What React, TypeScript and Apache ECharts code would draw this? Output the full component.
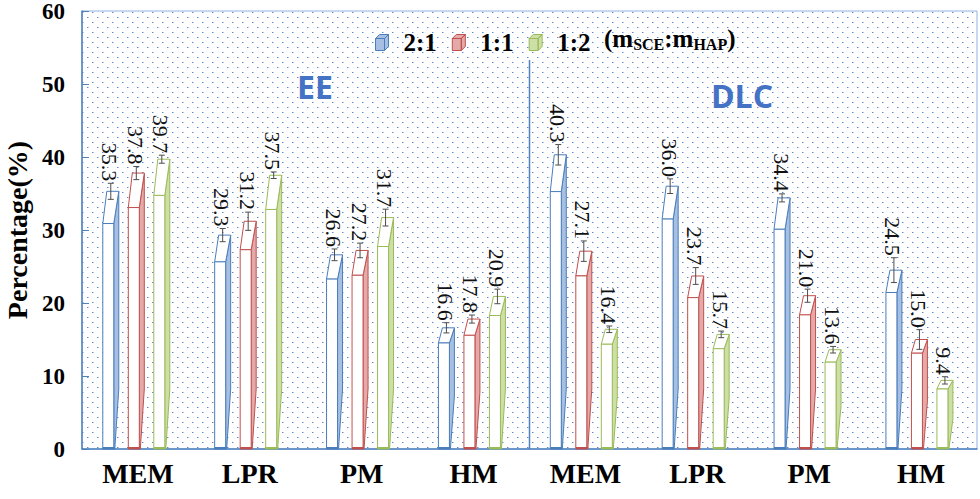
import React, { useEffect, useRef } from 'react';
import * as echarts from 'echarts';

const CATEGORIES = ['MEM', 'LPR', 'PM', 'HM', 'MEM', 'LPR', 'PM', 'HM'];
const GROUP_TITLES = ['EE', 'DLC'];
const RATIOS = ['2:1', '1:1', '1:2'];
const VALUES_2_1 = [35.3, 29.3, 26.6, 16.6, 40.3, 36.0, 34.4, 24.5];
const VALUES_1_1 = [37.8, 31.2, 27.2, 17.8, 27.1, 23.7, 21.0, 15.0];
const VALUES_1_2 = [39.7, 37.5, 31.7, 20.9, 16.4, 15.7, 13.6, 9.4];
const ERR_2_1 = [1.1, 0.9, 0.8, 0.7, 1.4, 1.0, 0.55, 1.7];
const ERR_1_1 = [0.9, 1.25, 1.0, 0.55, 1.4, 1.15, 0.9, 1.35];
const ERR_1_2 = [0.55, 0.45, 1.15, 1.0, 0.45, 0.45, 0.45, 0.5];
const Y_TICKS = [0, 10, 20, 30, 40, 50, 60];

const COLORS = ['#4a7ebb', '#c0504d', '#9bbb59'];
const SIDE_FILLS = ['#a7bfe2', '#e3aaa9', '#cddfa6'];
const OFFSETS = [-0.265, -0.037, 0.191];
const SERIF = 'Liberation Serif';
const SANS = 'Open Sans';

const makeDots = () => {
  const c = document.createElement('canvas');
  c.width = 10;
  c.height = 10;
  const ctx = c.getContext('2d')!;
  ctx.fillStyle = '#5c86d0';
  ctx.fillRect(2, 2, 1, 1);
  ctx.fillRect(7, 7, 1, 1);
  ctx.fillStyle = 'rgba(92,134,208,0.45)';
  ctx.fillRect(3, 2, 1, 1);
  ctx.fillRect(8, 7, 1, 1);
  return c.toDataURL();
};

const makeRenderItem = (si: number) => (params: any, api: any) => {
  const ci = api.value(0);
  const v = api.value(1);
  const e = api.value(2);
  const p0 = api.coord([ci, 0]);
  const pt = api.coord([ci, v]);
  const bandW = api.size([1, 0])[0];
  const color = COLORS[si];
  const xc = p0[0] + bandW * OFFSETS[si];
  const w = 11;
  const d = 5;
  const y0 = p0[1];
  const yt = pt[1];
  const yf = y0 + (yt - y0) * 0.875;
  const xL = xc - w / 2;
  const xR = xc + w / 2;
  const taper = Math.min(60, (y0 - yf) * 0.5);
  const xe = xc + 2.5;
  const ye1 = api.coord([ci, v + e])[1];
  const ye2 = api.coord([ci, v - e])[1];
  const children: any[] = [
    {
      type: 'polygon',
      shape: { points: [[xR, yf], [xR + d, yt], [xR + d, y0 - taper], [xR + 1, y0], [xR, y0]] },
      style: { fill: SIDE_FILLS[si], stroke: color, lineWidth: 1 },
    },
    {
      type: 'polygon',
      shape: { points: [[xL, yf], [xR, yf], [xR + d, yt], [xL + d - 1, yt]] },
      style: { fill: '#ffffff', stroke: color, lineWidth: 1 },
    },
    {
      type: 'rect',
      shape: { x: xL, y: yf, width: w, height: y0 - yf },
      style: { fill: '#ffffff', stroke: color, lineWidth: 1 },
    },
    {
      type: 'line',
      shape: { x1: xL, y1: y0 - 1, x2: xR + 1, y2: y0 - 1 },
      style: { stroke: color, lineWidth: 2 },
    },
    {
      type: 'line',
      shape: { x1: xe, y1: ye1, x2: xe, y2: ye2 },
      style: { stroke: '#4d4d4d', lineWidth: 1 },
    },
    {
      type: 'line',
      shape: { x1: xe - 3, y1: ye1, x2: xe + 3, y2: ye1 },
      style: { stroke: '#4d4d4d', lineWidth: 1 },
    },
    {
      type: 'line',
      shape: { x1: xe - 3, y1: ye2, x2: xe + 3, y2: ye2 },
      style: { stroke: '#4d4d4d', lineWidth: 1 },
    },
    {
      type: 'text',
      x: xe - 1,
      y: ye1 - 2,
      rotation: -Math.PI / 2,
      style: {
        text: v.toFixed(1),
        align: 'right',
        verticalAlign: 'middle',
        fontFamily: SERIF,
        fontSize: 22,
        fill: '#111111',
      },
    },
  ];
  if (si === 0 && params.dataIndex === 4) {
    const xb = p0[0] - bandW / 2;
    const yTopDiv = api.coord([ci, 53.3])[1];
    children.push({
      type: 'line',
      shape: { x1: xb, y1: y0, x2: xb, y2: yTopDiv },
      style: { stroke: '#4f81bd', lineWidth: 1.5 },
    });
  }
  return { type: 'group', children };
};

const buildData = (vals: number[], errs: number[]) => vals.map((v, i) => [i, v, errs[i]]);

export default function App() {
  const ref = useRef<HTMLDivElement>(null);
  useEffect(() => {
    const el = ref.current!;
    const chart = echarts.init(el, null, { renderer: 'svg' });
    const dots = makeDots();
    const seriesVals = [VALUES_2_1, VALUES_1_1, VALUES_1_2];
    const seriesErrs = [ERR_2_1, ERR_1_1, ERR_1_2];
    const legendIcon =
      'path://M0,4 L9,4 L9,16 L0,16 Z M0,4 L4,0 L13,0 L9,4 Z M9,4 L13,0 L13,12 L9,16 Z';
    const option: any = {
      animation: false,
      backgroundColor: '#ffffff',
      grid: {
        left: 82,
        right: 3,
        top: 11,
        bottom: 50,
        containLabel: false,
        outerBoundsMode: 'none',
        show: true,
        backgroundColor: { image: dots, repeat: 'repeat', imageWidth: 10, imageHeight: 10 },
        borderColor: '#8db3e2',
        borderWidth: 1,
      },
      legend: {
        left: 370,
        top: 25,
        itemWidth: 13,
        itemHeight: 16,
        itemGap: 15,
        textStyle: {
          fontFamily: SERIF,
          fontWeight: 'bold',
          fontSize: 25,
          color: '#000',
          padding: [0, 0, 0, 10],
        },
        data: RATIOS.map((r, i) => ({
          name: r,
          icon: legendIcon,
          itemStyle: { color: SIDE_FILLS[i], borderColor: COLORS[i], borderWidth: 1 },
        })),
      },
      graphic: [
        {
          type: 'text',
          left: 604,
          top: 26,
          style: {
            text: '{a|(m}{s|SCE}{a|:m}{s|HAP}{a|)}',
            rich: {
              a: { fontFamily: SERIF, fontWeight: 'bold', fontSize: 25, lineHeight: 28, fill: '#000', verticalAlign: 'middle' },
              s: { fontFamily: SERIF, fontWeight: 'bold', fontSize: 16, lineHeight: 12, fill: '#000', verticalAlign: 'bottom' },
            },
          },
        },
        {
          type: 'text',
          x: 315,
          y: 86,
          style: {
            text: GROUP_TITLES[0],
            align: 'center',
            verticalAlign: 'middle',
            fontFamily: SANS,
            fontWeight: 'bold',
            fontSize: 32,
            fill: '#4472c4',
          },
        },
        {
          type: 'text',
          x: 742,
          y: 95,
          style: {
            text: GROUP_TITLES[1],
            align: 'center',
            verticalAlign: 'middle',
            fontFamily: SANS,
            fontWeight: 'bold',
            fontSize: 32,
            fill: '#4472c4',
          },
        },
      ],
      xAxis: {
        type: 'category',
        data: CATEGORIES,
        axisLine: { lineStyle: { color: '#4f81bd', width: 1.5 } },
        axisTick: { show: false },
        axisLabel: {
          fontFamily: SERIF,
          fontWeight: 'bold',
          fontSize: 28,
          color: '#000',
          margin: 10,
          interval: 0,
        },
        splitLine: { show: false },
      },
      yAxis: {
        type: 'value',
        min: Y_TICKS[0],
        max: Y_TICKS[Y_TICKS.length - 1],
        interval: Y_TICKS[1] - Y_TICKS[0],
        name: 'Percentage(%)',
        nameLocation: 'middle',
        nameGap: 50,
        nameTextStyle: { fontFamily: SERIF, fontWeight: 'bold', fontSize: 28, color: '#000' },
        axisLine: { show: true, lineStyle: { color: '#4f81bd', width: 1.5 } },
        axisTick: { show: true, inside: true, length: 7, lineStyle: { color: '#4f81bd' } },
        axisLabel: { fontFamily: SERIF, fontWeight: 'bold', fontSize: 23, color: '#000', margin: 17 },
        splitLine: { show: false },
      },
      series: RATIOS.map((r, si) => ({
        name: r,
        type: 'custom',
        renderItem: makeRenderItem(si),
        encode: { x: 0, y: 1 },
        itemStyle: { color: SIDE_FILLS[si], borderColor: COLORS[si] },
        data: buildData(seriesVals[si], seriesErrs[si]),
        z: 3,
      })),
    };
    chart.setOption(option);
    return () => chart.dispose();
  }, []);
  return (
    <div
      ref={ref}
      style={{ position: 'fixed', left: 0, top: 0, width: 980, height: 499, background: '#fff' }}
    />
  );
}
